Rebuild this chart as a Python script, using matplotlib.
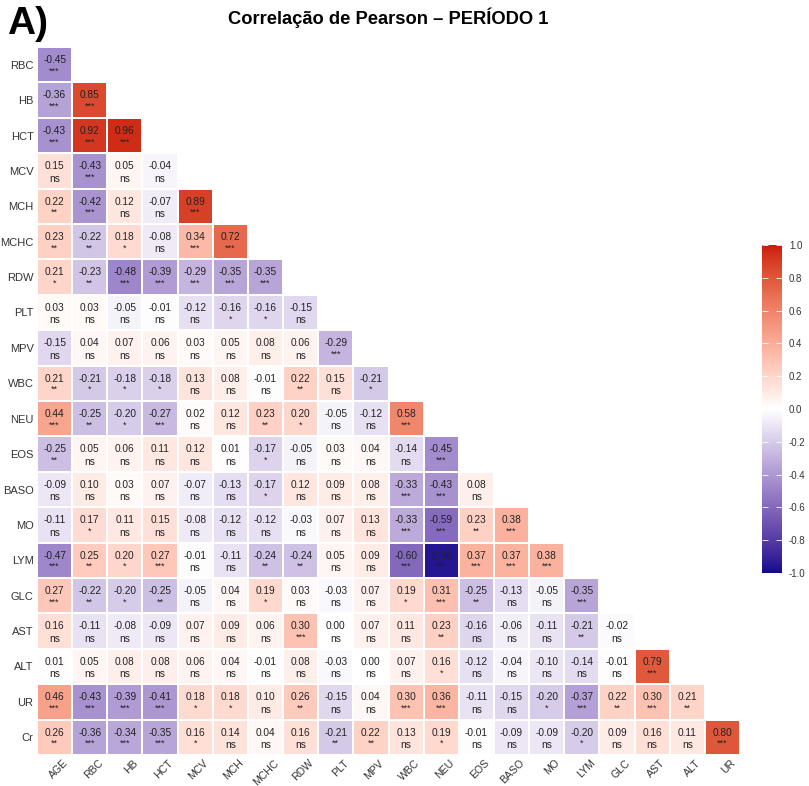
import numpy as np
import matplotlib
matplotlib.use("Agg")
import matplotlib.pyplot as plt
import matplotlib.transforms as mtransforms
from matplotlib.colors import ListedColormap, to_rgb

row_labels = ["RBC", "HB", "HCT", "MCV", "MCH", "MCHC", "RDW", "PLT", "MPV", "WBC",
              "NEU", "EOS", "BASO", "MO", "LYM", "GLC", "AST", "ALT", "UR", "Cr"]
col_labels = ["AGE", "RBC", "HB", "HCT", "MCV", "MCH", "MCHC", "RDW", "PLT", "MPV",
              "WBC", "NEU", "EOS", "BASO", "MO", "LYM", "GLC", "AST", "ALT", "UR"]

corr_values = [
    [-0.45],
    [-0.36, 0.85],
    [-0.43, 0.92, 0.96],
    [0.15, -0.43, 0.05, -0.04],
    [0.22, -0.42, 0.12, -0.07, 0.89],
    [0.23, -0.22, 0.18, -0.08, 0.34, 0.72],
    [0.21, -0.23, -0.48, -0.39, -0.29, -0.35, -0.35],
    [0.03, 0.03, -0.05, -0.01, -0.12, -0.16, -0.16, -0.15],
    [-0.15, 0.04, 0.07, 0.06, 0.03, 0.05, 0.08, 0.06, -0.29],
    [0.21, -0.21, -0.18, -0.18, 0.13, 0.08, -0.01, 0.22, 0.15, -0.21],
    [0.44, -0.25, -0.20, -0.27, 0.02, 0.12, 0.23, 0.20, -0.05, -0.12, 0.58],
    [-0.25, 0.05, 0.06, 0.11, 0.12, 0.01, -0.17, -0.05, 0.03, 0.04, -0.14, -0.45],
    [-0.09, 0.10, 0.03, 0.07, -0.07, -0.13, -0.17, 0.12, 0.09, 0.08, -0.33, -0.43, 0.08],
    [-0.11, 0.17, 0.11, 0.15, -0.08, -0.12, -0.12, -0.03, 0.07, 0.13, -0.33, -0.59, 0.23, 0.38],
    [-0.47, 0.25, 0.20, 0.27, -0.01, -0.11, -0.24, -0.24, 0.05, 0.09, -0.60, -0.96, 0.37, 0.37, 0.38],
    [0.27, -0.22, -0.20, -0.25, -0.05, 0.04, 0.19, 0.03, -0.03, 0.07, 0.19, 0.31, -0.25, -0.13, -0.05, -0.35],
    [0.16, -0.11, -0.08, -0.09, 0.07, 0.09, 0.06, 0.30, 0.00, 0.07, 0.11, 0.23, -0.16, -0.06, -0.11, -0.21, -0.02],
    [0.01, 0.05, 0.08, 0.08, 0.06, 0.04, -0.01, 0.08, -0.03, 0.00, 0.07, 0.16, -0.12, -0.04, -0.10, -0.14, -0.01, 0.79],
    [0.46, -0.43, -0.39, -0.41, 0.18, 0.18, 0.10, 0.26, -0.15, 0.04, 0.30, 0.36, -0.11, -0.15, -0.20, -0.37, 0.22, 0.30, 0.21],
    [0.26, -0.36, -0.34, -0.35, 0.16, 0.14, 0.04, 0.16, -0.21, 0.22, 0.13, 0.19, -0.01, -0.09, -0.09, -0.20, 0.09, 0.16, 0.11, 0.80],
]

corr_signif = [
    ["***"],
    ["***", "***"],
    ["***", "***", "***"],
    ["ns", "***", "ns", "ns"],
    ["**", "***", "ns", "ns", "***"],
    ["**", "**", "*", "ns", "***", "***"],
    ["*", "**", "***", "***", "***", "***", "***"],
    ["ns", "ns", "ns", "ns", "ns", "*", "*", "ns"],
    ["ns", "ns", "ns", "ns", "ns", "ns", "ns", "ns", "***"],
    ["**", "*", "*", "*", "ns", "ns", "ns", "**", "ns", "*"],
    ["***", "**", "*", "***", "ns", "ns", "**", "*", "ns", "ns", "***"],
    ["**", "ns", "ns", "ns", "ns", "ns", "*", "ns", "ns", "ns", "ns", "***"],
    ["ns", "ns", "ns", "ns", "ns", "ns", "*", "ns", "ns", "ns", "***", "***", "ns"],
    ["ns", "*", "ns", "ns", "ns", "ns", "ns", "ns", "ns", "ns", "***", "***", "**", "***"],
    ["***", "**", "*", "***", "ns", "ns", "**", "**", "ns", "ns", "***", "***", "***", "***", "***"],
    ["***", "**", "*", "**", "ns", "ns", "*", "ns", "ns", "ns", "*", "***", "**", "ns", "ns", "***"],
    ["ns", "ns", "ns", "ns", "ns", "ns", "ns", "***", "ns", "ns", "ns", "**", "ns", "ns", "ns", "**", "ns"],
    ["ns", "ns", "ns", "ns", "ns", "ns", "ns", "ns", "ns", "ns", "ns", "*", "ns", "ns", "ns", "ns", "ns", "***"],
    ["***", "***", "***", "***", "*", "*", "ns", "**", "ns", "ns", "***", "***", "ns", "ns", "*", "***", "**", "***", "**"],
    ["**", "***", "***", "***", "*", "ns", "ns", "ns", "**", "**", "ns", "*", "ns", "ns", "ns", "*", "ns", "ns", "ns", "***"],
]

title_text = "Correlação de Pearson – PERÍODO 1"
panel_tag = "A)"
cbar_ticks = [-1.0, -0.8, -0.6, -0.4, -0.2, 0.0, 0.2, 0.4, 0.6, 0.8, 1.0]

# ---------- Lab-interpolated diverging colormap (ggplot gradient2 style) ----------
def srgb_to_lab(rgb):
    rgb = np.asarray(rgb, dtype=float)
    lin = np.where(rgb <= 0.04045, rgb / 12.92, ((rgb + 0.055) / 1.055) ** 2.4)
    M = np.array([[0.4124, 0.3576, 0.1805], [0.2126, 0.7152, 0.0722], [0.0193, 0.1192, 0.9505]])
    xyz = lin @ M.T
    wp = np.array([0.95047, 1.0, 1.08883])
    t = xyz / wp
    f = np.where(t > (6 / 29) ** 3, np.cbrt(t), t / (3 * (6 / 29) ** 2) + 4 / 29)
    L = 116 * f[..., 1] - 16
    a = 500 * (f[..., 0] - f[..., 1])
    b = 200 * (f[..., 1] - f[..., 2])
    return np.stack([L, a, b], axis=-1)

def lab_to_srgb(lab):
    lab = np.asarray(lab, dtype=float)
    fy = (lab[..., 0] + 16) / 116
    fx = fy + lab[..., 1] / 500
    fz = fy - lab[..., 2] / 200
    f = np.stack([fx, fy, fz], axis=-1)
    d = 6 / 29
    t = np.where(f > d, f ** 3, 3 * d ** 2 * (f - 4 / 29))
    xyz = t * np.array([0.95047, 1.0, 1.08883])
    Minv = np.array([[3.2406, -1.5372, -0.4986], [-0.9689, 1.8758, 0.0415], [0.0557, -0.2040, 1.0570]])
    lin = xyz @ Minv.T
    lin = np.clip(lin, 0, 1)
    rgb = np.where(lin <= 0.0031308, 12.92 * lin, 1.055 * lin ** (1 / 2.4) - 0.055)
    return np.clip(rgb, 0, 1)

low, mid, high = to_rgb("#0D0A8E"), to_rgb("#FFFFFF"), to_rgb("#CC1A0A")
lab_low, lab_mid, lab_high = srgb_to_lab(low), srgb_to_lab(mid), srgb_to_lab(high)
n = 256
tt = np.linspace(0, 1, n)[:, None]
lower = lab_low + (lab_mid - lab_low) * tt
upper = lab_mid + (lab_high - lab_mid) * tt
cols = np.vstack([lab_to_srgb(lower), lab_to_srgb(upper)])
cmap = ListedColormap(cols)

# ---------- matrix ----------
nr, nc = len(row_labels), len(col_labels)
M = np.full((nr, nc), np.nan)
for i, row in enumerate(corr_values):
    for j, v in enumerate(row):
        M[i, j] = v

plt.rcParams['font.family'] = ['Liberation Sans', 'DejaVu Sans']
W, H = 809, 786
fig = plt.figure(figsize=(W / 100, H / 100), dpi=100)

x0, x1, y0, y1 = 37, 740, 47, 755
ax = fig.add_axes([x0 / W, 1 - y1 / H, (x1 - x0) / W, (y1 - y0) / H])
Mm = np.ma.masked_invalid(M)
mesh = ax.pcolormesh(np.arange(nc + 1), np.arange(nr + 1), Mm, cmap=cmap, vmin=-1, vmax=1,
                     edgecolors="white", linewidth=0.3)
ax.set_xlim(0, nc)
ax.set_ylim(nr, 0)
for s in ax.spines.values():
    s.set_visible(False)
ax.set_xticks(np.arange(nc) + 0.5)
ax.set_yticks(np.arange(nr) + 0.5)
ax.set_xticklabels(col_labels, rotation=45, ha="right", va="top", rotation_mode="anchor",
                   fontsize=7.6, color="#333333")
ax.set_yticklabels(row_labels, fontsize=8, color="#333333")
ax.tick_params(axis="y", length=0, pad=2.5)
ax.tick_params(axis="x", length=0, pad=2)
offset = mtransforms.ScaledTranslation(8 / 100, 0, fig.dpi_scale_trans)
for lbl in ax.get_xticklabels():
    lbl.set_transform(lbl.get_transform() + offset)

for i, row in enumerate(corr_values):
    for j, v in enumerate(row):
        ax.text(j + 0.5, i + 0.37, f"{v:.2f}", ha="center", va="center", fontsize=7.3, color="#222222")
        s = corr_signif[i][j]
        if s == "ns":
            ax.text(j + 0.5, i + 0.72, s, ha="center", va="center", fontsize=7.3, color="#222222")
        else:
            ax.text(j + 0.5, i + 0.68, s, ha="center", va="center", fontsize=6.5, color="#222222")

# colorbar
cax = fig.add_axes([762 / W, 1 - 573 / H, 20 / W, (573 - 245) / H])
cb = fig.colorbar(mesh, cax=cax, ticks=cbar_ticks)
cb.outline.set_visible(False)
cb.ax.set_yticklabels([f"{t:.1f}" for t in cbar_ticks], fontsize=7, color="#333333")
cb.ax.tick_params(direction="in", color="white", length=4, width=0.6, left=True, right=True, pad=5)

fig.text(388 / W, 1 - 18 / H, title_text, ha="center", va="center", fontsize=13.2, fontweight="bold",
         family=["Liberation Sans Narrow", "Liberation Sans", "DejaVu Sans"])
fig.text(7 / W, 1 - 24 / H, panel_tag, ha="left", va="center", fontsize=28, fontweight="bold",
         family=["Liberation Sans Narrow", "Liberation Sans", "DejaVu Sans"])

fig.savefig("out.png", dpi=100)
